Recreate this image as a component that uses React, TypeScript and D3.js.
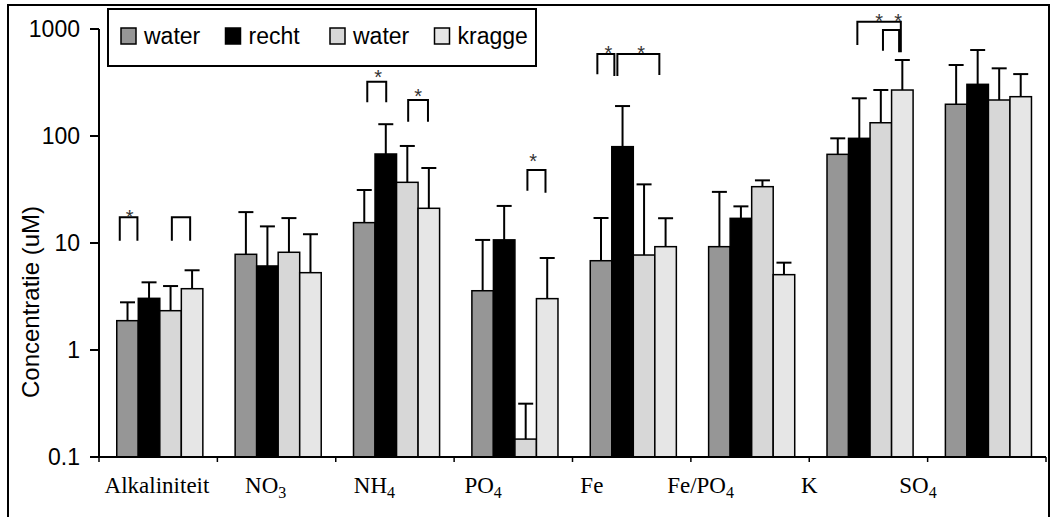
import * as d3 from "d3"

const categories = ["Alkaliniteit", "NO3", "NH4", "PO4", "Fe", "Fe/PO4", "K", "SO4"]
const labelMain = ["Alkaliniteit", "NO", "NH", "PO", "Fe", "Fe/PO", "K", "SO"]
const labelSub = ["", "3", "4", "4", "", "4", "", "4"]

const seriesNames = ["water", "recht", "water", "kragge"]
const seriesColors = ["#969696", "#000000", "#d7d7d7", "#e6e6e6"]

// mean values per category
const water1 = [1.88, 7.84, 15.5, 3.58, 6.83, 9.24, 67.4, 198]
const recht = [3.04, 6.1, 67.9, 10.7, 79.5, 17.0, 95.1, 304]
const water2 = [2.33, 8.19, 36.9, 0.147, 7.72, 33.6, 133, 217]
const kragge = [3.74, 5.28, 21.1, 3.02, 9.24, 5.06, 269, 233]

// upper error (plus only)
const water1Err = [0.91, 11.6, 15.8, 7.1, 10.3, 20.8, 27.7, 263]
const rechtErr = [1.25, 8.2, 61, 11.5, 111, 5.0, 130, 332]
const water2Err = [1.63, 8.9, 43.8, 0.168, 27.6, 4.9, 136, 212]
const kraggeErr = [1.82, 6.8, 29.1, 4.22, 7.8, 1.49, 244, 146]

const yTicks = [0.1, 1, 10, 100, 1000]

// significance brackets: u = position in bar widths from group start, levels in uM
interface Bracket { cat: string; u1: number; u2: number; top: number; b1: number; b2: number; star: number | null; starLevel: number }
const brackets: Bracket[] = [
  { cat: "Alkaliniteit", u1: 0.14, u2: 0.96, top: 17.4, b1: 10.5, b2: 10.5, star: 0.6, starLevel: 19.1 },
  { cat: "Alkaliniteit", u1: 2.56, u2: 3.41, top: 17.4, b1: 10.5, b2: 10.5, star: null, starLevel: 0 },
  { cat: "NH4", u1: 0.64, u2: 1.52, top: 322, b1: 207, b2: 207, star: 1.15, starLevel: 388 },
  { cat: "NH4", u1: 2.54, u2: 3.46, top: 217, b1: 136, b2: 136, star: 3.0, starLevel: 258 },
  { cat: "PO4", u1: 2.58, u2: 3.42, top: 48.1, b1: 30.8, b2: 29.5, star: 2.85, starLevel: 64.1 },
  { cat: "Fe", u1: 0.33, u2: 1.12, top: 583, b1: 378, b2: 364, star: 0.84, starLevel: 664 },
  { cat: "Fe", u1: 1.26, u2: 3.21, top: 583, b1: 364, b2: 372, star: 2.37, starLevel: 664 },
  { cat: "K", u1: 1.41, u2: 3.43, top: 1169, b1: 708, b2: 606, star: 2.42, starLevel: 1303 },
  { cat: "K", u1: 2.6, u2: 3.35, top: 979, b1: 627, b2: 606, star: 3.3, starLevel: 1303 },
]

const W = 1052
const H = 517
const sans = "'Liberation Sans', Arial, sans-serif"
const serif = "'Liberation Serif', 'Times New Roman', serif"

export default function App() {
  const values = [water1, recht, water2, kragge]
  const errors = [water1Err, rechtErr, water2Err, kraggeErr]

  const x = d3.scaleBand().domain(categories).range([99, 1046])
  const xs = d3.scaleBand().domain(["0", "1", "2", "3"]).range([0, x.bandwidth()]).paddingOuter(0.75).align(0.55)
  const y = d3.scaleLog().domain([0.1, 1000]).range([457, 29])
  const labelX = d3.scalePoint().domain(categories).range([157, 918])
  const bw = xs.bandwidth()
  const fmt = (v: number) => (v < 1 ? String(v) : d3.format("d")(v))

  const boundaries = categories.map((c) => x(c)!).concat([x.range()[1]])

  return (
    <svg width={W} height={H} style={{ position: "absolute", left: 0, top: 0 }}>
      <rect x={0} y={0} width={W} height={H} fill="white" />
      <rect x={8} y={5} width={1041} height={520} fill="none" stroke="black" strokeWidth={2} />

      {/* bars */}
      {categories.map((c, ci) => (
        <g key={c}>
          {values.map((s, si) => (
            <rect key={si} x={x(c)! + xs(String(si))!} y={y(s[ci])} width={bw} height={y(0.1) - y(s[ci])}
              fill={seriesColors[si]} stroke="black" strokeWidth={1.5} />
          ))}
          {values.map((s, si) => {
            const cx = x(c)! + xs(String(si))! + bw / 2
            const top = y(s[ci] + errors[si][ci])
            return (
              <g key={"e" + si} stroke="black" strokeWidth={2}>
                <line x1={cx} x2={cx} y1={y(s[ci])} y2={top} />
                <line x1={cx - 7.5} x2={cx + 7.5} y1={top} y2={top} />
              </g>
            )
          })}
        </g>
      ))}

      {/* brackets */}
      {brackets.map((b, i) => {
        const gs = x(b.cat)! + xs("0")!
        const x1 = gs + b.u1 * bw
        const x2 = gs + b.u2 * bw
        return (
          <g key={i}>
            <path d={`M${x1},${y(b.b1)}V${y(b.top)}H${x2}V${y(b.b2)}`} fill="none" stroke="black" strokeWidth={2} />
            {b.star !== null && (
              <text x={gs + b.star * bw} y={y(b.starLevel) + 11.5} textAnchor="middle" fontFamily={sans} fontSize={20} fill="#333">*</text>
            )}
          </g>
        )
      })}

      {/* y axis */}
      <line x1={99} x2={99} y1={y(1000)} y2={y(0.1)} stroke="black" strokeWidth={2} />
      {yTicks.map((t) => (
        <g key={t} transform={`translate(0,${y(t)})`}>
          <line x1={90} x2={99} stroke="black" strokeWidth={2} />
          <text x={80} dy="0.35em" textAnchor="end" fontFamily={sans} fontSize={23}>{fmt(t)}</text>
        </g>
      ))}
      <text transform={`translate(31,302) rotate(-90)`} textAnchor="middle" dy="0.35em" fontFamily={sans} fontSize={24}>
        Concentratie (uM)
      </text>

      {/* x axis */}
      <line x1={x.range()[0]} x2={x.range()[1]} y1={y(0.1)} y2={y(0.1)} stroke="black" strokeWidth={2} />
      {boundaries.map((bx, i) => (
        <line key={i} x1={bx} x2={bx} y1={y(0.1)} y2={y(0.1) + 5} stroke="black" strokeWidth={1.5} />
      ))}
      {categories.map((c, i) => (
        <text key={c} x={labelX(c)} y={493} textAnchor="middle" fontFamily={serif} fontSize={23}>
          {labelMain[i]}
          {labelSub[i] && <tspan dy={5} fontSize={16}>{labelSub[i]}</tspan>}
        </text>
      ))}

      {/* legend */}
      <rect x={108} y={9} width={428} height={57} fill="white" stroke="black" strokeWidth={2} />
      {seriesNames.map((n, i) => (
        <g key={i} transform={`translate(${121 + i * 104.5},0)`}>
          <rect x={0} y={28} width={15} height={16} fill={seriesColors[i]} stroke="black" strokeWidth={1.5} />
          <text x={23} y={44} fontFamily={sans} fontSize={23}>{n}</text>
        </g>
      ))}
    </svg>
  )
}
